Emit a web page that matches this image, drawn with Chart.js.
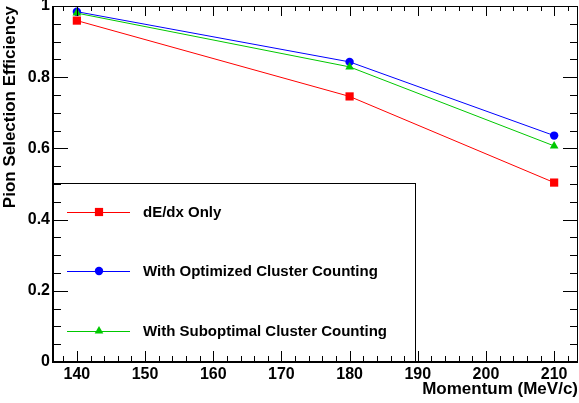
<!DOCTYPE html>
<html>
<head>
<meta charset="utf-8">
<script src="https://cdn.jsdelivr.net/npm/chart.js@4/dist/chart.umd.min.js"></script>
<style>
  html, body { margin: 0; padding: 0; background: #fff; }
  #wrap { width: 579px; height: 403px; }
</style>
</head>
<body>
<div id="wrap"><canvas id="myChart" width="579" height="403"></canvas></div>
<script>
// values
var momentum = [140, 180, 210];
var dedxOnly = [0.959, 0.746, 0.504];
var optimized = [0.984, 0.843, 0.636];
var suboptimal = [0.980, 0.829, 0.607];
var seriesNames = ['dE/dx Only', 'With Optimized Cluster Counting', 'With Suboptimal Cluster Counting'];
var yTickLabels = ['0', '0.2', '0.4', '0.6', '0.8', '1'];

var FONT = '"Liberation Sans", Arial, Helvetica, sans-serif';

function pts(ys) {
  return momentum.map(function(x, i) { return { x: x, y: ys[i] }; });
}

// ROOT style frame with inner ticks + the legend box
var rootFrame = {
  id: 'rootFrame',
  afterDraw: function(chart) {
    var ctx = chart.ctx, a = chart.chartArea;
    var xs = chart.scales.x, ys = chart.scales.y;
    ctx.save();
    ctx.strokeStyle = '#000';
    ctx.lineWidth = 1;
    ctx.beginPath();
    // x ticks, major every 10, minor every 2
    for (var v = 138; v <= 212; v += 2) {
      var px = Math.round(xs.getPixelForValue(v)) + 0.5;
      var major = (v % 10 === 0);
      ctx.moveTo(px, a.bottom); ctx.lineTo(px, a.bottom - (major ? 11 : 6));
      ctx.moveTo(px, a.top); ctx.lineTo(px, a.top + (major ? 10 : 5));
    }
    // y ticks, major every 0.2, minor every 0.05
    for (var k = 0; k <= 20; k++) {
      var py = Math.round(ys.getPixelForValue(k * 0.05)) + 0.5;
      var maj = (k % 4 === 0);
      ctx.moveTo(a.left, py); ctx.lineTo(a.left + (maj ? 15 : 8), py);
      ctx.moveTo(a.right, py); ctx.lineTo(a.right - (maj ? 15 : 8), py);
    }
    ctx.stroke();
    // frame
    ctx.strokeRect(a.left + 0.5, a.top + 0.5, a.right - a.left - 1, a.bottom - a.top - 1);
    ctx.lineWidth = 2;
    ctx.beginPath();
    ctx.moveTo(a.left, a.top); ctx.lineTo(a.left, a.bottom);
    ctx.lineTo(a.right, a.bottom);
    ctx.stroke();

    // legend
    var box = { l: a.left, t: 183, r: 415, b: a.bottom };
    ctx.lineWidth = 1;
    ctx.strokeRect(box.l + 0.5, box.t + 0.5, box.r - box.l, box.b - box.t);
    var rows = [212, 271, 331];
    chart.data.datasets.forEach(function(ds, i) {
      var y = rows[ds.legendRow];
      ctx.strokeStyle = ds.borderColor;
      ctx.lineWidth = 1;
      ctx.beginPath();
      ctx.moveTo(67, y + 0.5); ctx.lineTo(130, y + 0.5);
      ctx.stroke();
      ctx.fillStyle = ds.pointBackgroundColor;
      ctx.strokeStyle = ds.pointBorderColor;
      Chart.helpers.drawPoint(ctx, { pointStyle: ds.pointStyle, radius: ds.pointRadius, borderWidth: 0, rotation: 0 }, 99, y);
      ctx.fillStyle = '#000';
      ctx.font = 'bold 15px ' + FONT;
      ctx.textBaseline = 'middle';
      ctx.textAlign = 'left';
      ctx.fillText(seriesNames[ds.legendRow], 143, y + 1);
    });
    ctx.restore();
  }
};

var ctx = document.getElementById('myChart').getContext('2d');
var myChart = new Chart(ctx, {
  type: 'line',
  data: {
    datasets: [
      {
        label: seriesNames[2], legendRow: 2, order: 0,
        data: pts(suboptimal),
        borderColor: 'rgb(0,200,0)', backgroundColor: 'rgb(0,200,0)',
        pointBackgroundColor: 'rgb(0,200,0)', pointBorderColor: 'rgb(0,200,0)',
        pointStyle: 'triangle', pointRadius: 5, borderWidth: 1, pointBorderWidth: 0
      },
      {
        label: seriesNames[1], legendRow: 1, order: 1,
        data: pts(optimized),
        borderColor: 'rgb(0,0,255)', backgroundColor: 'rgb(0,0,255)',
        pointBackgroundColor: 'rgb(0,0,255)', pointBorderColor: 'rgb(0,0,255)',
        pointStyle: 'circle', pointRadius: 4.2, borderWidth: 1, pointBorderWidth: 0
      },
      {
        label: seriesNames[0], legendRow: 0, order: 2,
        data: pts(dedxOnly),
        borderColor: 'rgb(255,0,0)', backgroundColor: 'rgb(255,0,0)',
        pointBackgroundColor: 'rgb(255,0,0)', pointBorderColor: 'rgb(255,0,0)',
        pointStyle: 'rect', pointRadius: 5.8, borderWidth: 1, pointBorderWidth: 0
      }
    ]
  },
  options: {
    responsive: false,
    animation: false,
    events: [],
    layout: { autoPadding: false, padding: { top: 6, right: 1, left: 0, bottom: 0 } },
    plugins: { legend: { display: false }, tooltip: { enabled: false } },
    scales: {
      x: {
        type: 'linear',
        min: 136.5, max: 213.5,
        grid: { display: false, drawTicks: false },
        border: { display: false },
        ticks: {
          stepSize: 10, includeBounds: false, padding: 3,
          color: '#000', font: { family: FONT, size: 16, weight: 'bold' },
          maxRotation: 0
        },
        title: {
          display: true, text: 'Momentum (MeV/c)', align: 'end',
          color: '#000', font: { family: FONT, size: 17, weight: 'bold' },
          padding: { top: 0, bottom: 3 }
        },
        afterFit: function(s) {
          s.height = 41;
          s.paddingLeft = 0; s.paddingRight = 0;
        }
      },
      y: {
        min: 0, max: 1,
        grid: { display: false, drawTicks: false },
        border: { display: false },
        ticks: {
          stepSize: 0.2, includeBounds: false, padding: 3,
          color: '#000', font: { family: FONT, size: 16, weight: 'bold' },
          callback: function(v) { return yTickLabels[Math.round(v / 0.2)]; }
        },
        title: {
          display: true, text: 'Pion Selection Efficiency', align: 'end',
          color: '#000', font: { family: FONT, size: 17, weight: 'bold' },
          padding: { top: 0, bottom: 0 }
        },
        afterFit: function(s) {
          s.width = 53;
          s.paddingTop = 0; s.paddingBottom = 0;
        }
      }
    }
  },
  plugins: [rootFrame]
});
</script>
</body>
</html>
